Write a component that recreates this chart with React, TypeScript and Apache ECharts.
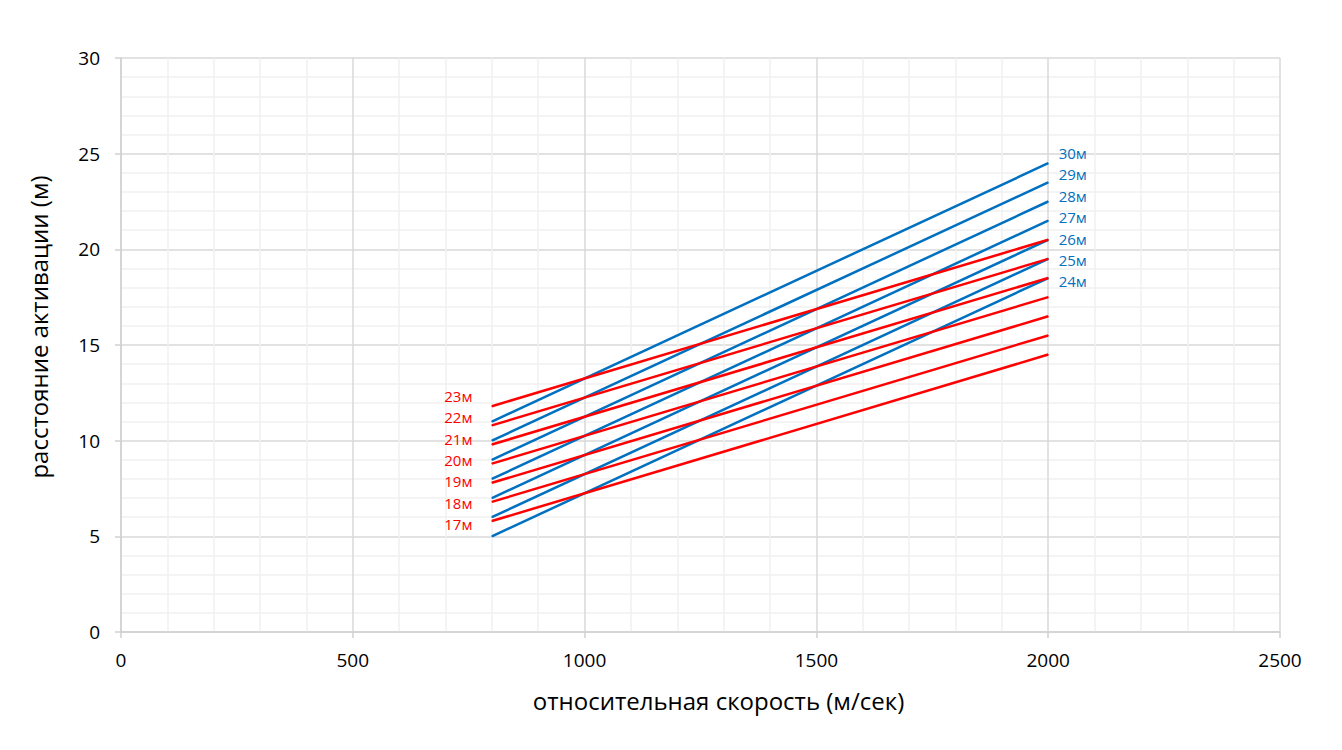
import React, { useEffect, useRef } from "react";
import * as echarts from "echarts";

const xStart = 800;
const xEnd = 2000;

const blueNames = ["24м", "25м", "26м", "27м", "28м", "29м", "30м"];
const blueStart = [5, 6, 7, 8, 9, 10, 11];
const blueEnd = [18.5, 19.5, 20.5, 21.5, 22.5, 23.5, 24.5];

const redNames = ["17м", "18м", "19м", "20м", "21м", "22м", "23м"];
const redStart = [5.8, 6.8, 7.8, 8.8, 9.8, 10.8, 11.8];
const redEnd = [14.5, 15.5, 16.5, 17.5, 18.5, 19.5, 20.5];

const BLUE = "#0070C0";
const RED = "#FF0000";
const FONT = "Open Sans";

export default function App() {
  const ref = useRef<HTMLDivElement>(null);

  useEffect(() => {
    document.body.style.margin = "0";
    if (!ref.current) return;
    const chart = echarts.init(ref.current, null, { renderer: "svg" });

    const blueSeries = blueNames.map((name, i) => ({
      type: "line",
      name,
      silent: true,
      symbol: "circle",
      symbolSize: 1,
      showSymbol: true,
      z: 2,
      lineStyle: { color: BLUE, width: 2.5 },
      itemStyle: { color: BLUE },
      emphasis: { disabled: true },
      data: [
        [xStart, blueStart[i]],
        {
          value: [xEnd, blueEnd[i]],
          label: {
            show: true,
            position: "right",
            distance: 10,
            offset: [0, -3.4 - (i - 3) * 2.27],
            formatter: name,
            color: BLUE,
            fontSize: 15,
            fontFamily: FONT,
          },
        },
      ],
    }));

    const redSeries = redNames.map((name, i) => ({
      type: "line",
      name,
      silent: true,
      symbol: "circle",
      symbolSize: 1,
      showSymbol: true,
      z: 3,
      lineStyle: { color: RED, width: 2.5 },
      itemStyle: { color: RED },
      emphasis: { disabled: true },
      data: [
        {
          value: [xStart, redStart[i]],
          label: {
            show: true,
            position: "left",
            distance: 19,
            offset: [0, -3.7 - (i - 3) * 2.2],
            formatter: name,
            color: RED,
            fontSize: 15,
            fontFamily: FONT,
          },
        },
        [xEnd, redEnd[i]],
      ],
    }));

    const axisCommon = {
      type: "value",
      axisLine: { show: true, lineStyle: { color: "#D0D0D0", width: 1.5 } },
      axisTick: { show: true, inside: false, length: 6, lineStyle: { color: "#D0D0D0", width: 1.5 } },
      splitLine: { show: true, lineStyle: { color: "#D9D9D9", width: 1.5 } },
      minorTick: { show: false, splitNumber: 5 },
      minorSplitLine: { show: true, lineStyle: { color: "#F0F0F0", width: 1.5 } },
      nameLocation: "middle",
    };

    chart.setOption({
      animation: false,
      textStyle: { fontFamily: FONT },
      grid: { left: 121, right: 62, top: 58, bottom: 118, containLabel: false },
      xAxis: {
        ...axisCommon,
        min: 0,
        max: 2500,
        interval: 500,
        name: "относительная скорость (м/сек)",
        nameGap: 56,
        nameTextStyle: { fontSize: 24, color: "#000", fontFamily: FONT, padding: [0, 0, 0, 36] },
        axisLabel: {
          fontSize: 19,
          color: "#000",
          margin: 18,
          fontFamily: FONT,
          formatter: (v: number) => String(v),
        },
      },
      yAxis: {
        ...axisCommon,
        min: 0,
        max: 30,
        interval: 5,
        name: "расстояние активации (м)",
        nameGap: 71,
        nameTextStyle: { fontSize: 24, color: "#000", fontFamily: FONT, padding: [0, 0, 0, 36] },
        axisLabel: {
          fontSize: 19,
          color: "#000",
          margin: 21,
          fontFamily: FONT,
          formatter: (v: number) => String(v),
        },
      },
      series: [...blueSeries, ...redSeries],
    });

    return () => chart.dispose();
  }, []);

  return <div ref={ref} style={{ width: 1342, height: 750 }} />;
}
